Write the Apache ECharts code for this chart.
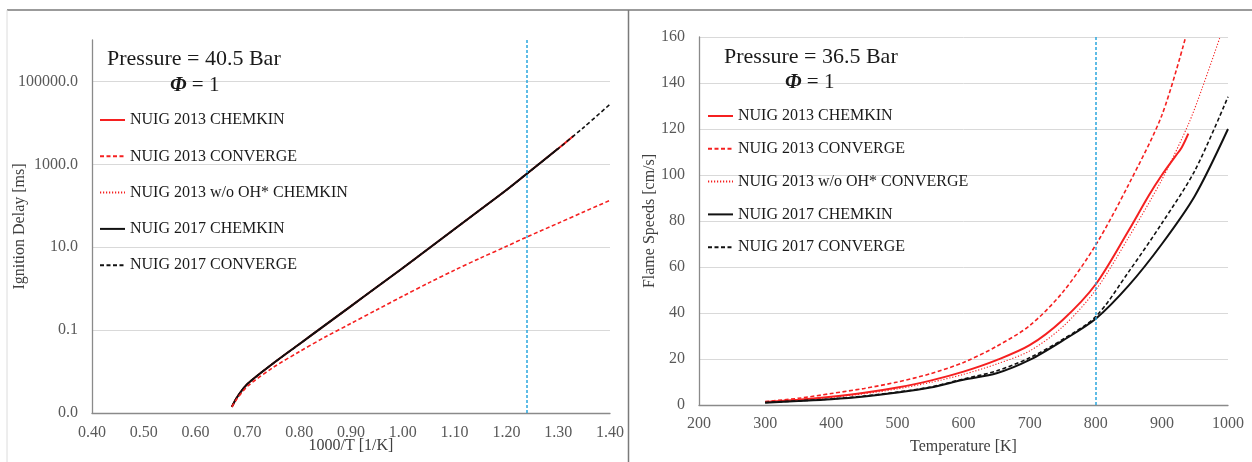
<!DOCTYPE html>
<html>
<head>
<meta charset="utf-8">
<script src="https://cdn.jsdelivr.net/npm/echarts@6/dist/echarts.min.js"></script>
<style>html,body{margin:0;padding:0;background:#fff}#c{width:1252px;height:462px}</style>
</head>
<body>
<div id="c"></div>
<script>
// ---------- Left panel: ignition delay ----------
const idXFull = [0.67,0.68,0.70,0.75,0.80,0.85,0.90,0.95,1.00,1.05,1.10,1.15,1.20,1.24,1.30,1.35,1.40];
const idXChem = [0.67,0.68,0.70,0.75,0.80,0.85,0.90,0.95,1.00,1.05,1.10,1.15,1.20,1.24,1.30,1.33];
const id2013Chemkin   = [0.0014,0.0024,0.0050,0.0158,0.0457,0.132,0.38,1.10,3.16,9.3,27.5,81,240,603,2400,4900];
const id2013NoOH      = [0.0014,0.0024,0.0050,0.0158,0.0457,0.132,0.38,1.10,3.16,9.3,27.5,81,240,603,2400,4900];
const id2017Chemkin   = [0.0014,0.0024,0.0050,0.0158,0.0457,0.132,0.38,1.10,3.16,9.3,27.5,81,240,603,2400,5000];
const id2013Converge  = [0.0014,0.0022,0.0044,0.0126,0.030,0.068,0.145,0.31,0.66,1.38,2.8,5.5,10.5,17.8,38,72,135];
const id2017Converge  = [0.0014,0.0024,0.0050,0.0158,0.0457,0.132,0.38,1.10,3.16,9.3,27.5,81,240,603,2400,7940,28200];
const idBlueLine = 1.242;

// ---------- Right panel: flame speeds ----------
const fsT2013Conv = [300,350,400,450,500,550,600,650,700,750,800,850,900,936];
const fs2013Conv  = [1.5,2.9,5.0,7.2,10,13.6,18.5,25.5,34.5,49,69.6,96,126,160];
const fsT2013Chem = [300,350,400,450,500,550,600,650,700,750,800,850,880,900,920,930,940];
const fs2013Chem  = [1.3,2.3,3.6,5.3,7.6,10.6,14.5,19.5,26,37,52.5,76,91,100,108,112,118];
const fsT2013NoOH = [300,350,400,450,500,550,600,650,700,750,800,850,900,940,960,988];
const fs2013NoOH  = [1.2,2.1,3.3,4.9,7,9.8,13.3,17.8,23.5,34,50,73,98,122,137,160];
const fsT2017     = [300,350,400,450,500,550,600,650,700,750,800,850,900,950,1000];
const fs2017Conv  = [1.1,1.8,2.6,3.9,5.6,7.8,11.3,14.8,20.5,28.5,38.4,58,79,102,134];
const fs2017Chem  = [1.0,1.7,2.5,3.7,5.4,7.6,11,13.8,19.6,28,37.5,52,70,91,120];
const fsBlueLine = 800;

const leftNames = ['NUIG 2013 CHEMKIN','NUIG 2013 CONVERGE','NUIG 2013 w/o OH* CHEMKIN','NUIG 2017 CHEMKIN','NUIG 2017 CONVERGE'];
const rightNames = ['NUIG 2013 CHEMKIN','NUIG 2013 CONVERGE','NUIG 2013 w/o OH* CONVERGE','NUIG 2017 CHEMKIN','NUIG 2017 CONVERGE'];

const zip = (xs, ys) => xs.map((x, i) => [x, ys[i]]);
const FONT = '"Liberation Serif", "DejaVu Serif", serif';
const RED = '#f52020';
const BLUE = '#2aa6de';

const styles = {
  redSolid:   {color: RED, width: 2, type: 'solid'},
  redDash:    {color: RED, width: 1.6, type: [4, 2.5]},
  redDot:     {color: RED, width: 1.1, type: [1.2, 1.8]},
  blackSolid: {color: '#111', width: 2, type: 'solid'},
  blackDash:  {color: '#111', width: 1.6, type: [4, 2.5]}
};

function ser(name, grid, data, st, extra) {
  return Object.assign({
    name, type: 'line', xAxisIndex: grid, yAxisIndex: grid,
    data, symbol: 'none', showSymbol: false, smooth: 0.3,
    lineStyle: Object.assign({}, st), itemStyle: {color: st.color},
    emphasis: {disabled: true}, animation: false
  }, extra || {});
}
function blue(v) {
  return {markLine: {silent: true, symbol: 'none', label: {show: false}, animation: false,
    lineStyle: {color: BLUE, type: [3, 2], width: 1.5}, data: [{xAxis: v}]}};
}

const axisLabelBase = {fontFamily: FONT, fontSize: 16, color: '#595959'};
const axisLineBase = {show: true, lineStyle: {color: '#8a8a8a', width: 1.3}};
const nameBase = {fontFamily: FONT, fontSize: 16, color: '#404040'};
const legendBase = {orient: 'vertical', itemWidth: 25, itemHeight: 14, padding: 0, selectedMode: false,
  itemStyle: {color: 'rgba(0,0,0,0)', borderWidth: 0, opacity: 0},
  textStyle: {fontFamily: FONT, fontSize: 16, color: '#1a1a1a'}};

const option = {
  animation: false,
  backgroundColor: '#fff',
  grid: [
    {left: 92, top: 40, width: 518, height: 373, outerBoundsMode: 'none', containLabel: false},
    {left: 699, top: 37, width: 529, height: 368, outerBoundsMode: 'none', containLabel: false}
  ],
  xAxis: [
    {type: 'value', gridIndex: 0, min: 0.4, max: 1.4, interval: 0.1,
     axisLabel: Object.assign({margin: 12, formatter: v => v.toFixed(2)}, axisLabelBase),
     axisTick: {show: false}, axisLine: axisLineBase, splitLine: {show: false},
     name: '1000/T [1/K]', nameLocation: 'middle', nameGap: 25, nameMoveOverlap: false, nameTextStyle: nameBase},
    {type: 'value', gridIndex: 1, min: 200, max: 1000, interval: 100,
     axisLabel: Object.assign({margin: 11, formatter: v => String(v)}, axisLabelBase),
     axisTick: {show: false}, axisLine: axisLineBase, splitLine: {show: false},
     name: 'Temperature [K]', nameLocation: 'middle', nameGap: 34, nameMoveOverlap: false, nameTextStyle: nameBase}
  ],
  yAxis: [
    {type: 'log', logBase: 10, gridIndex: 0, min: 0.001, max: 1000000, interval: 2,
     axisLabel: Object.assign({margin: 14, showMaxLabel: false, formatter: v => Number(v).toFixed(1)}, axisLabelBase),
     axisTick: {show: false}, axisLine: axisLineBase, minorTick: {show: false},
     splitLine: {show: true, showMaxLine: false, lineStyle: {color: '#d9d9d9', width: 1}},
     name: 'Ignition Delay [ms]', nameLocation: 'middle', nameGap: 64, nameMoveOverlap: false, nameTextStyle: nameBase},
    {type: 'value', gridIndex: 1, min: 0, max: 160, interval: 20,
     axisLabel: Object.assign({margin: 14}, axisLabelBase),
     axisTick: {show: false}, axisLine: axisLineBase,
     splitLine: {show: true, lineStyle: {color: '#d9d9d9', width: 1}},
     name: 'Flame Speeds [cm/s]', nameLocation: 'middle', nameGap: 41, nameMoveOverlap: false, nameTextStyle: nameBase}
  ],
  legend: [
    Object.assign({data: leftNames, left: 99, top: 112, itemGap: 20.3}, legendBase),
    Object.assign({data: rightNames, left: 707, top: 108, itemGap: 16.8}, legendBase)
  ],
  series: [
    // left panel
    ser('NUIG 2013 w/o OH* CHEMKIN', 0, zip(idXChem, id2013NoOH), styles.redDot),
    ser('NUIG 2013 CHEMKIN', 0, zip(idXChem, id2013Chemkin), styles.redSolid),
    ser('NUIG 2017 CHEMKIN', 0, zip(idXChem.slice(0, 15), id2017Chemkin.slice(0, 15)), styles.blackSolid),
    ser('NUIG 2017 CONVERGE', 0, zip(idXFull, id2017Converge), styles.blackDash),
    ser('NUIG 2013 CONVERGE', 0, zip(idXFull, id2013Converge), styles.redDash, blue(idBlueLine)),
    // right panel
    ser('NUIG 2013 w/o OH* CONVERGE', 1, zip(fsT2013NoOH, fs2013NoOH), styles.redDot),
    ser('NUIG 2013 CHEMKIN', 1, zip(fsT2013Chem, fs2013Chem), styles.redSolid),
    ser('NUIG 2013 CONVERGE', 1, zip(fsT2013Conv, fs2013Conv), styles.redDash),
    ser('NUIG 2017 CONVERGE', 1, zip(fsT2017, fs2017Conv), styles.blackDash),
    ser('NUIG 2017 CHEMKIN', 1, zip(fsT2017, fs2017Chem), styles.blackSolid, blue(fsBlueLine))
  ],
  graphic: [
    {type: 'line', shape: {x1: 7, y1: 10, x2: 1252, y2: 10}, style: {stroke: '#7a7a7a', lineWidth: 1.5}, silent: true},
    {type: 'line', shape: {x1: 628.5, y1: 10, x2: 628.5, y2: 462}, style: {stroke: '#7a7a7a', lineWidth: 1.5}, silent: true},
    {type: 'line', shape: {x1: 7, y1: 10, x2: 7, y2: 462}, style: {stroke: '#dcdcdc', lineWidth: 1}, silent: true},
    {type: 'text', left: 107, top: 48, z: 100, silent: true,
     style: {text: 'Pressure = 40.5 Bar', font: '22px "Liberation Serif"', fill: '#1a1a1a'}},
    {type: 'text', left: 170, top: 75, z: 100, silent: true,
     style: {text: '{p|Φ} = 1', font: '21px "Liberation Serif"', fill: '#1a1a1a',
             rich: {p: {fontStyle: 'italic', fontWeight: 'bold', fontSize: 21, fontFamily: 'Liberation Serif', fill: '#1a1a1a'}}}},
    {type: 'text', left: 724, top: 46, z: 100, silent: true,
     style: {text: 'Pressure = 36.5 Bar', font: '22px "Liberation Serif"', fill: '#1a1a1a'}},
    {type: 'text', left: 785, top: 72, z: 100, silent: true,
     style: {text: '{p|Φ} = 1', font: '21px "Liberation Serif"', fill: '#1a1a1a',
             rich: {p: {fontStyle: 'italic', fontWeight: 'bold', fontSize: 21, fontFamily: 'Liberation Serif', fill: '#1a1a1a'}}}}
  ]
};

const chart = echarts.init(document.getElementById('c'), null, {renderer: 'canvas'});
chart.setOption(option);
</script>
</body>
</html>
